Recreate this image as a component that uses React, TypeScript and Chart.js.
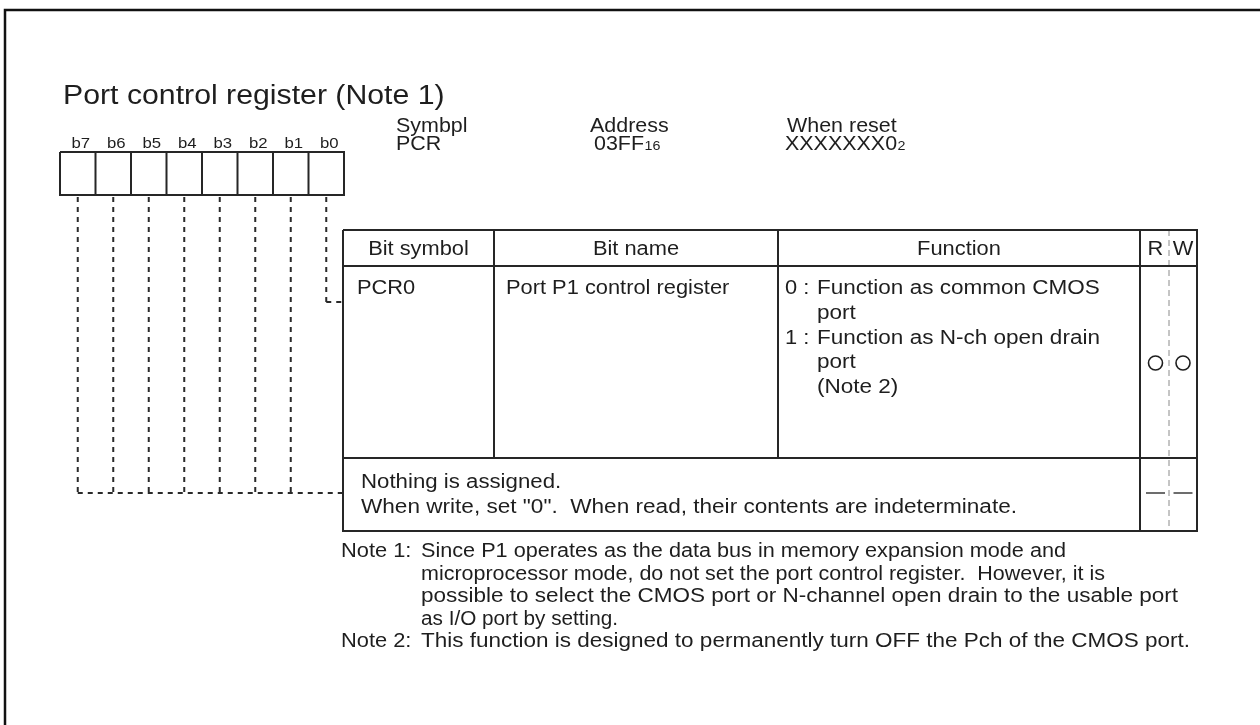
import React, { useEffect, useRef } from "react";
import { Chart, registerables } from "chart.js";

Chart.register(...registerables);

// ---------- content ----------
const title = "Port control register (Note 1)";
const bitLabels = ["b7", "b6", "b5", "b4", "b3", "b2", "b1", "b0"];
const infoHeaders = ["Symbpl", "Address", "When reset"];
const infoValues = ["PCR", "03FF", "XXXXXXX0"];
const infoSubscripts = ["", "16", "2"];
const tableHeaders = ["Bit symbol", "Bit name", "Function"];
const rwHeaders = ["R", "W"];
const row1Symbol = "PCR0";
const row1Name = "Port P1 control register";
const row1Function = [
  ["0 : ", "Function as common CMOS"],
  ["", "port"],
  ["1 : ", "Function as N-ch open drain"],
  ["", "port"],
  ["", "(Note 2)"],
];
const row2Text = [
  "Nothing is assigned.",
  'When write, set "0".  When read, their contents are indeterminate.',
];
const notes = [
  ["Note 1: ", "Since P1 operates as the data bus in memory expansion mode and"],
  ["", "microprocessor mode, do not set the port control register.  However, it is"],
  ["", "possible to select the CMOS port or N-channel open drain to the usable port"],
  ["", "as I/O port by setting."],
  ["Note 2: ", "This function is designed to permanently turn OFF the Pch of the CMOS port."],
];
const rwRow1 = ["circle", "circle"];
const rwRow2 = ["dash", "dash"];

// ---------- layout ----------
const W = 1260;
const H = 725;
const FONT = '"Liberation Sans", Arial, Helvetica, sans-serif';
const INK = "#1e1e1e";
const LINE = "#262626";

const boxX0 = 60;
const boxW = 35.5;
const boxTop = 152;
const boxBot = 195;

const tL = 343, tC1 = 494, tC2 = 778, tC3 = 1140, tRW = 1169, tR = 1197;
const tT = 230, tH = 266, tR1 = 458, tR2 = 531;

const b0TurnY = 302;
const othersTurnY = 493;

// right ends of the note lines (layout fitting)
const noteLineEnds = [1066, 1105, 1178, 618, 1190];

type Pt = { x: number; y: number };
const seg = (pts: Pt[], opts: any = {}) => ({
  type: "scatter",
  data: pts,
  showLine: true,
  pointRadius: 0,
  borderColor: LINE,
  borderWidth: 2,
  fill: false,
  tension: 0,
  clip: false,
  ...opts,
});

function buildDatasets() {
  const ds: any[] = [];
  ds.push(seg([{ x: 5, y: H + 5 }, { x: 5, y: 10 }, { x: W + 5, y: 10 }], { borderWidth: 2.5, borderColor: "#111" }));
  ds.push(seg([
    { x: boxX0, y: boxTop }, { x: boxX0 + boxW * bitLabels.length, y: boxTop },
    { x: boxX0 + boxW * bitLabels.length, y: boxBot }, { x: boxX0, y: boxBot }, { x: boxX0, y: boxTop },
  ]));
  for (let i = 1; i < bitLabels.length; i++) {
    ds.push(seg([{ x: boxX0 + boxW * i, y: boxTop }, { x: boxX0 + boxW * i, y: boxBot }]));
  }
  const dash = { borderDash: [5, 5], borderWidth: 2, borderColor: "#2a2a2a" };
  bitLabels.forEach((_, i) => {
    const cx = boxX0 + boxW * (i + 0.5);
    const last = i === bitLabels.length - 1;
    const ty = last ? b0TurnY : othersTurnY;
    ds.push(seg([{ x: cx, y: boxBot + 2 }, { x: cx, y: ty }], dash));
    if (last) ds.push(seg([{ x: cx, y: ty }, { x: tL, y: ty }], dash));
  });
  ds.push(seg([{ x: boxX0 + boxW * 0.5, y: othersTurnY }, { x: tL, y: othersTurnY }], dash));
  ds.push(seg([{ x: tL, y: tT }, { x: tR, y: tT }, { x: tR, y: tR2 }, { x: tL, y: tR2 }, { x: tL, y: tT }]));
  ds.push(seg([{ x: tL, y: tH }, { x: tR, y: tH }]));
  ds.push(seg([{ x: tL, y: tR1 }, { x: tR, y: tR1 }]));
  ds.push(seg([{ x: tC1, y: tT }, { x: tC1, y: tR1 }]));
  ds.push(seg([{ x: tC2, y: tT }, { x: tC2, y: tR1 }]));
  ds.push(seg([{ x: tC3, y: tT }, { x: tC3, y: tR2 }]));
  ds.push(seg([{ x: tRW, y: tT }, { x: tRW, y: tR2 }], { borderWidth: 1, borderDash: [6, 4], borderColor: "#8a8a8a" }));
  const rC = (tC3 + tRW) / 2 + 1;
  const wC = (tRW + tR) / 2;
  const marksX = [rC, wC];
  const circlePts = rwRow1.map((m, i) => (m === "circle" ? { x: marksX[i], y: 363 } : null)).filter(Boolean);
  ds.push({
    type: "scatter",
    data: circlePts,
    pointStyle: "circle",
    pointRadius: 7,
    pointBorderWidth: 1.6,
    pointBorderColor: INK,
    pointBackgroundColor: "rgba(0,0,0,0)",
    showLine: false,
    clip: false,
  });
  rwRow2.forEach((m, i) => {
    if (m === "dash") {
      ds.push(seg([{ x: marksX[i] - 9.5, y: 493 }, { x: marksX[i] + 9.5, y: 493 }], { borderWidth: 1.3, borderColor: INK }));
    }
  });
  return ds;
}

function drawText(ctx: CanvasRenderingContext2D, text: string, x: number, y: number, size: number, align: "left" | "center" = "left", hs = 1.12, fitTo?: number) {
  ctx.save();
  ctx.font = `${size}px ${FONT}`;
  ctx.fillStyle = INK;
  ctx.textBaseline = "alphabetic";
  ctx.textAlign = "left";
  const raw = ctx.measureText(text).width;
  const s = fitTo !== undefined ? (fitTo - x) / raw : hs;
  const w = raw * s;
  const sx = align === "center" ? x - w / 2 : x;
  ctx.translate(sx, y);
  ctx.scale(s, 1);
  ctx.fillText(text, 0, 0);
  ctx.restore();
  return w;
}

const textPlugin = {
  id: "diagramText",
  afterDatasetsDraw(chart: any) {
    const ctx: CanvasRenderingContext2D = chart.ctx;
    const sx = chart.scales.x;
    const sy = chart.scales.y;
    const X = (v: number) => sx.getPixelForValue(v);
    const Y = (v: number) => sy.getPixelForValue(v);
    const F = 19.5;

    drawText(ctx, title, X(63), Y(104), 27.5, "left", 1.1);

    bitLabels.forEach((b, i) => {
      drawText(ctx, b, X(boxX0 + boxW * (i + 0.5) + 3), Y(148), 15.5, "center", 1.08);
    });

    const infoX = [396, 590, 787];
    const valX = [396, 594, 785];
    infoHeaders.forEach((h, i) => {
      drawText(ctx, h, X(infoX[i]), Y(132), 19.5, "left", 1.1);
      const w = drawText(ctx, infoValues[i], X(valX[i]), Y(150), 19.5, "left", 1.1);
      if (infoSubscripts[i]) {
        drawText(ctx, infoSubscripts[i], X(valX[i]) + w + 0.5, Y(150), 13, "left", 1.1);
      }
    });

    const colCenters = [(tL + tC1) / 2, (tC1 + tC2) / 2, (tC2 + tC3) / 2];
    tableHeaders.forEach((h, i) => drawText(ctx, h, X(colCenters[i]), Y(255), F, "center"));
    const rC = (tC3 + tRW) / 2 + 1;
    const wC = (tRW + tR) / 2;
    drawText(ctx, rwHeaders[0], X(rC), Y(255), F, "center");
    drawText(ctx, rwHeaders[1], X(wC), Y(255), F, "center");

    const lh = 24.8;
    drawText(ctx, row1Symbol, X(357), Y(294), F);
    drawText(ctx, row1Name, X(506), Y(294), F);
    row1Function.forEach(([pre, t], i) => {
      const y = Y(294 + lh * i);
      if (pre) drawText(ctx, pre, X(785), y, F);
      drawText(ctx, t, X(817), y, F, "left", 1.155);
    });

    drawText(ctx, row2Text[0], X(361), Y(488), F, "left", 1.14);
    drawText(ctx, row2Text[1], X(361), Y(513), F, "left", 1.14, X(1017));

    notes.forEach(([pre, t], i) => {
      const y = Y(557 + 22.6 * i);
      if (pre) drawText(ctx, pre, X(341), y, F, "left", 1.12);
      drawText(ctx, t, X(421), y, F, "left", 1.12, X(noteLineEnds[i]));
    });
  },
};

export default function App() {
  const ref = useRef<HTMLCanvasElement | null>(null);
  useEffect(() => {
    if (!ref.current) return;
    const chart = new Chart(ref.current, {
      type: "scatter",
      data: { datasets: buildDatasets() },
      options: {
        animation: false,
        responsive: false,
        maintainAspectRatio: false,
        events: [],
        layout: { padding: 0, autoPadding: false },
        plugins: { legend: { display: false }, tooltip: { enabled: false } },
        scales: {
          x: { type: "linear", min: 0, max: W, display: false },
          y: { type: "linear", min: 0, max: H, reverse: true, display: false },
        },
      },
      plugins: [textPlugin],
    } as any);
    return () => chart.destroy();
  }, []);
  return (
    <div style={{ position: "fixed", left: 0, top: 0, width: W, height: H, background: "#fff" }}>
      <canvas ref={ref} width={W} height={H} style={{ display: "block", width: W, height: H }} />
    </div>
  );
}
